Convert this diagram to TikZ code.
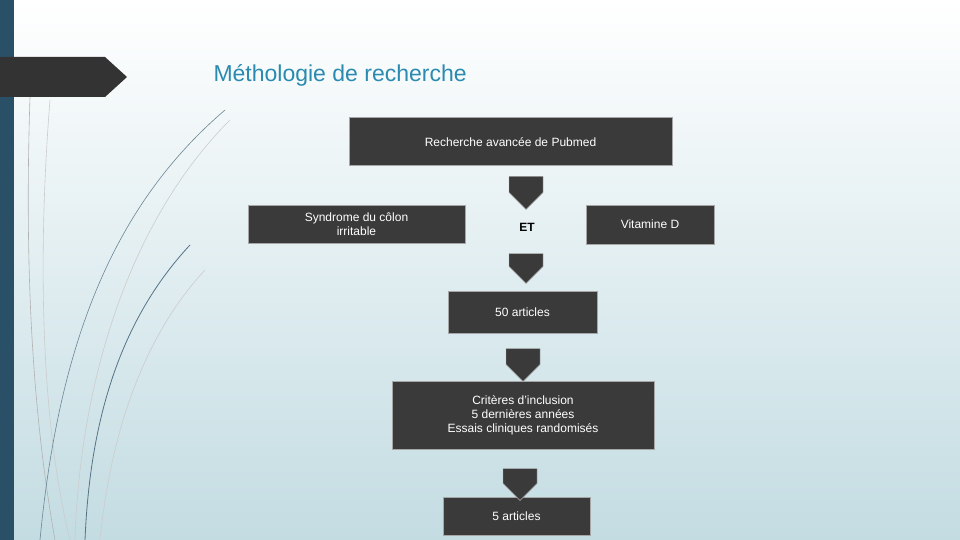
\documentclass[tikz,border=0pt]{standalone}
\usepackage{fontspec}
\setmainfont{Liberation Sans}
\usetikzlibrary{shapes.arrows}
\definecolor{boxc}{HTML}{3A3A3A}
\definecolor{bar}{HTML}{2A5068}
\definecolor{titc}{HTML}{2A8AB0}
\definecolor{bgb}{HTML}{C3DCE2}
\begin{document}
\begin{tikzpicture}[x=1pt,y=-1pt,
  bx/.style={draw=gray!70,line width=1pt,fill=boxc,text=white,font=\fontsize{12}{14}\selectfont,align=center,inner sep=0pt},
  dn/.style={fill=boxc,draw=gray!60,single arrow,shape border rotate=270,minimum width=34pt,single arrow head extend=0pt,single arrow tip angle=90,inner sep=0pt}]
\useasboundingbox (0,0) rectangle (960,540);
\shade[top color=white,bottom color=bgb] (0,0) rectangle (960,540);
\fill[bar] (0,0) rectangle (14,540);
\fill[black!80] (0,57) -- (105,57) -- (127,77) -- (105,97) -- (0,97) -- cycle;
\draw[gray!60,line width=0.6pt] (30,97) .. controls (25,250) and (30,400) .. (55,540);
\draw[gray!40,line width=0.6pt] (50,100) .. controls (38,250) and (40,420) .. (70,540);
\draw[bar!70,line width=0.6pt] (225,110) .. controls (120,200) and (60,330) .. (40,540);
\draw[gray!40,line width=0.6pt] (230,120) .. controls (130,220) and (80,380) .. (75,540);
\draw[bar!80,line width=0.8pt] (190,245) .. controls (120,320) and (90,420) .. (85,540);
\draw[gray!40,line width=0.6pt] (205,270) .. controls (140,340) and (110,440) .. (100,540);
\node[anchor=west,text=titc,font=\fontsize{23}{26}\selectfont] (title) at (210,75) {Méthologie de recherche};
\node[bx,minimum width=323pt,minimum height=48pt] (pub) at (510.5,142) {Recherche avancée de Pubmed};
\node[bx,minimum width=217pt,minimum height=38pt,anchor=north] (syn) at (356.5,205) {Syndrome du côlon\\irritable};
\node[font=\fontsize{12}{14}\selectfont\bfseries] (et) at (527,227) {ET};
\node[bx,minimum width=128pt,minimum height=39pt] (vit) at (650,224.5) {Vitamine D};
\node[bx,minimum width=149pt,minimum height=42pt] (a50) at (522.5,312) {50 articles};
\node[bx,minimum width=262pt,minimum height=68pt] (crit) at (523,415) {Critères d’inclusion\\5 dernières années\\Essais cliniques randomisés};
\node[bx,minimum width=147pt,minimum height=38pt] (a5) at (516.5,516) {5 articles};
\node[dn,minimum height=33pt] (r1) at (526,184.5) {};
\node[dn,minimum height=30pt] (r2) at (526,260) {};
\node[dn,minimum height=33pt] (r3) at (523,356.5) {};
\node[dn,minimum height=32pt] (r4) at (520,476) {};
\end{tikzpicture}
\end{document}
